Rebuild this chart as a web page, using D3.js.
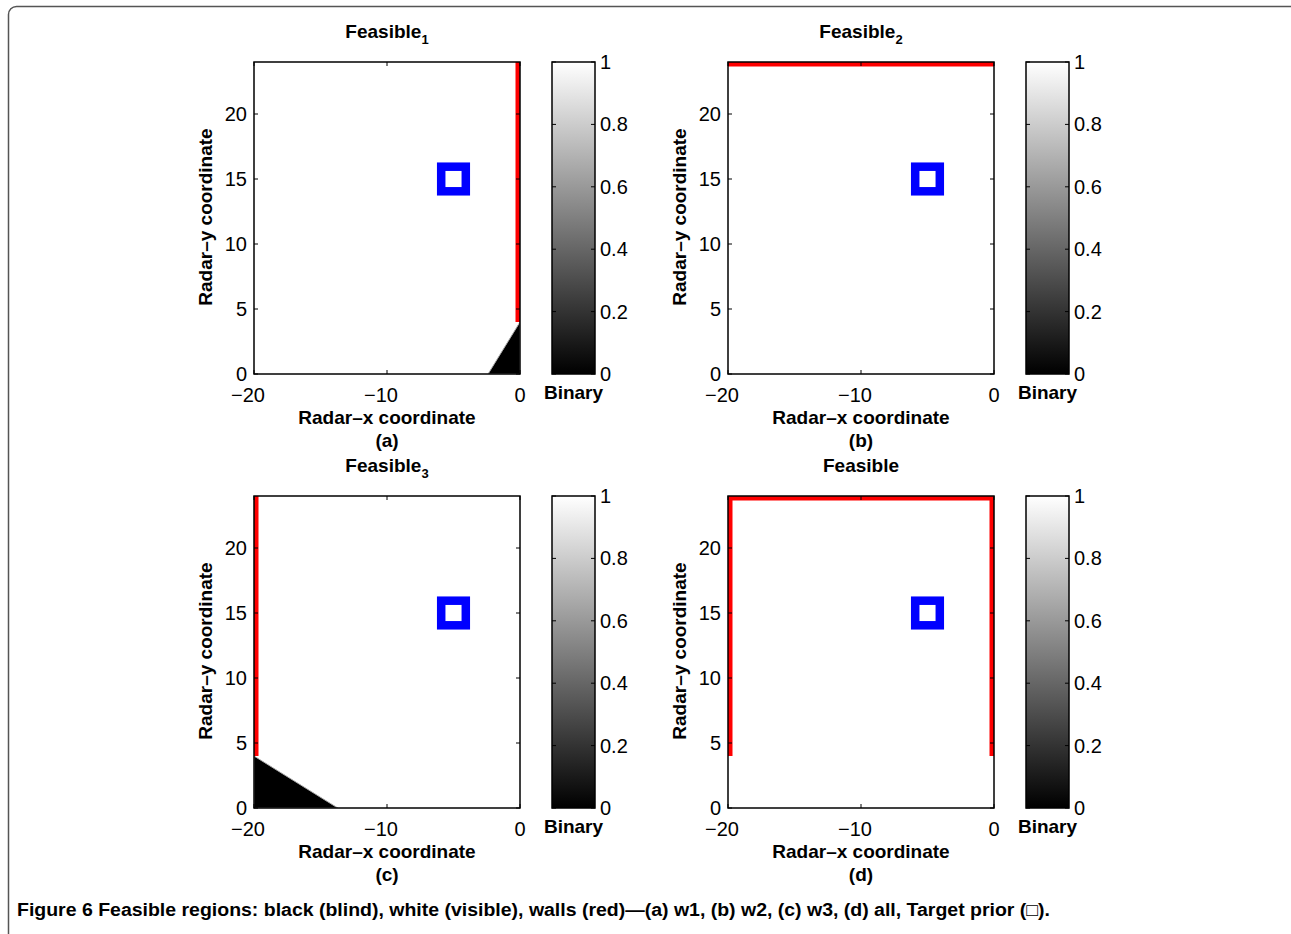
<!DOCTYPE html>
<html>
<head>
<meta charset="utf-8">
<script src="https://cdn.jsdelivr.net/npm/d3@7"></script>
<style>
  body { margin: 0; background: #fff; }
  text { font-family: "Liberation Sans", Arial, sans-serif; }
</style>
</head>
<body>
<script>
// data
const xTicks = [-20, -10, 0];
const yTicks = [0, 5, 10, 15, 20];
const cbTicks = [0, 0.2, 0.4, 0.6, 0.8, 1];
const panelTags = ["(a)", "(b)", "(c)", "(d)"];
const titleMain = ["Feasible", "Feasible", "Feasible", "Feasible"];
const titleSub = ["1", "2", "3", ""];
// walls per panel, as [x, y] segments
const walls = [
  [[[0, 4], [0, 24]]],
  [[[-20, 24], [0, 24]]],
  [[[-20, 4], [-20, 24]]],
  [[[-20, 4], [-20, 24.5]], [[-20.5, 24], [0.5, 24]], [[0, 4], [0, 24.5]]]
];
// blind (black) regions per panel
const blind = [
  [[0, 0], [0, 4], [-2.4, 0]],
  null,
  [[-20, 0], [-20, 4], [-13.7, 0]],
  null
];
const target = [-5, 15];

let width = 1291, height = 934;
let svg = d3.select("body").append("svg")
  .attr("width", width)
  .attr("height", height);

// outer frame of the figure
svg.append("rect")
  .attr("x", 8.5).attr("y", 6.5)
  .attr("width", 1320).attr("height", 1000)
  .attr("rx", 8)
  .attr("fill", "none")
  .attr("stroke", "#555")
  .attr("stroke-width", 1.5);

let defs = svg.append("defs");
let grad = defs.append("linearGradient")
  .attr("id", "gray")
  .attr("x1", 0).attr("y1", 1).attr("x2", 0).attr("y2", 0);
grad.append("stop").attr("offset", "0%").attr("stop-color", "#000");
grad.append("stop").attr("offset", "100%").attr("stop-color", "#fff");

const origins = [[254, 62], [728, 62], [254, 496], [728, 496]];
const pw = 266, ph = 312;

origins.forEach((o, i) => {
  let g = svg.append("g").attr("transform", `translate(${o[0]},${o[1]})`);
  let x = d3.scaleLinear().domain([-20, 0]).range([0, pw]);
  let y = d3.scaleLinear().domain([0, 24]).range([ph, 0]);

  defs.append("clipPath").attr("id", "clip" + i)
    .append("rect").attr("width", pw).attr("height", ph);

  let plot = g.append("g").attr("clip-path", `url(#clip${i})`);
  plot.append("rect").attr("width", pw).attr("height", ph).attr("fill", "#fff");

  if (blind[i]) {
    plot.append("path")
      .attr("d", d3.line().x(d => x(d[0])).y(d => y(d[1]))(blind[i]) + "Z")
      .attr("fill", "#000")
      .attr("stroke", "#aaa")
      .attr("stroke-width", 1);
  }

  plot.selectAll("line.wall")
    .data(walls[i])
    .enter()
    .append("line")
    .attr("class", "wall")
    .attr("x1", d => x(d[0][0])).attr("y1", d => y(d[0][1]))
    .attr("x2", d => x(d[1][0])).attr("y2", d => y(d[1][1]))
    .attr("stroke", "#ff0000")
    .attr("stroke-width", 9);

  // target prior marker
  let cx = x(target[0]), cy = y(target[1]);
  plot.append("rect")
    .attr("x", cx - 12.3).attr("y", cy - 12.3)
    .attr("width", 24.6).attr("height", 24.6)
    .attr("fill", "none")
    .attr("stroke", "#0000ff")
    .attr("stroke-width", 8.5);

  // box
  g.append("rect").attr("width", pw).attr("height", ph)
    .attr("fill", "none").attr("stroke", "#000").attr("stroke-width", 1.5);

  // ticks inside on all four sides
  let tk = 4;
  xTicks.forEach(t => {
    g.append("line").attr("x1", x(t)).attr("x2", x(t)).attr("y1", ph).attr("y2", ph - tk).attr("stroke", "#000");
    g.append("line").attr("x1", x(t)).attr("x2", x(t)).attr("y1", 0).attr("y2", tk).attr("stroke", "#000");
  });
  yTicks.forEach(t => {
    g.append("line").attr("y1", y(t)).attr("y2", y(t)).attr("x1", 0).attr("x2", tk).attr("stroke", "#000");
    g.append("line").attr("y1", y(t)).attr("y2", y(t)).attr("x1", pw).attr("x2", pw - tk).attr("stroke", "#000");
  });

  g.selectAll("text.xt").data(xTicks).enter().append("text")
    .attr("x", d => x(d) - (d < 0 ? 6 : 0)).attr("y", ph + 28)
    .attr("text-anchor", "middle").attr("font-size", 20)
    .text(d => d < 0 ? "\u2212" + Math.abs(d) : d);
  g.selectAll("text.yt").data(yTicks).enter().append("text")
    .attr("x", -7).attr("y", d => y(d) + 7)
    .attr("text-anchor", "end").attr("font-size", 20)
    .text(d => d);

  g.append("text").attr("x", pw / 2).attr("y", ph + 50)
    .attr("text-anchor", "middle").attr("font-size", 19).attr("font-weight", "bold")
    .text("Radar\u2013x coordinate");
  g.append("text").attr("x", pw / 2).attr("y", ph + 73)
    .attr("text-anchor", "middle").attr("font-size", 19).attr("font-weight", "bold")
    .text(panelTags[i]);
  g.append("text")
    .attr("transform", `translate(-42,${ph / 2 - 1}) rotate(-90)`)
    .attr("text-anchor", "middle").attr("font-size", 19).attr("font-weight", "bold")
    .text("Radar\u2013y coordinate");

  let title = g.append("text").attr("x", pw / 2).attr("y", -24)
    .attr("text-anchor", "middle").attr("font-size", 19).attr("font-weight", "bold");
  title.append("tspan").text(titleMain[i]);
  if (titleSub[i]) {
    title.append("tspan").attr("dy", 6).attr("font-size", 13).text(titleSub[i]);
  }

  // colorbar
  let cb = g.append("g").attr("transform", `translate(${pw + 32},0)`);
  let cbw = 43;
  let cy2 = d3.scaleLinear().domain([0, 1]).range([ph, 0]);
  cb.append("rect").attr("width", cbw).attr("height", ph)
    .attr("fill", "url(#gray)").attr("stroke", "#000").attr("stroke-width", 1.5);
  cbTicks.forEach(t => {
    cb.append("line").attr("x1", 0).attr("x2", tk).attr("y1", cy2(t)).attr("y2", cy2(t)).attr("stroke", "#000");
    cb.append("line").attr("x1", cbw).attr("x2", cbw - tk).attr("y1", cy2(t)).attr("y2", cy2(t)).attr("stroke", "#000");
  });
  cb.selectAll("text.ct").data(cbTicks).enter().append("text")
    .attr("x", cbw + 5).attr("y", d => cy2(d) + 7)
    .attr("font-size", 20)
    .text(d => d === 0 || d === 1 ? d : d.toFixed(1));
  cb.append("text").attr("x", cbw / 2).attr("y", ph + 25)
    .attr("text-anchor", "middle").attr("font-size", 19).attr("font-weight", "bold")
    .text("Binary");
});

// caption
let cap = svg.append("text").attr("x", 17).attr("y", 916)
  .attr("font-size", 18).attr("font-weight", "bold")
  .attr("textLength", 1033).attr("lengthAdjust", "spacingAndGlyphs");
cap.append("tspan").text("Figure 6 ");
cap.append("tspan").attr("font-weight", 600)
  .text("Feasible regions: black (blind), white (visible), walls (red)\u2014(a) w1, (b) w2, (c) w3, (d) all, Target prior (\u25A1).");
</script>
</body>
</html>
